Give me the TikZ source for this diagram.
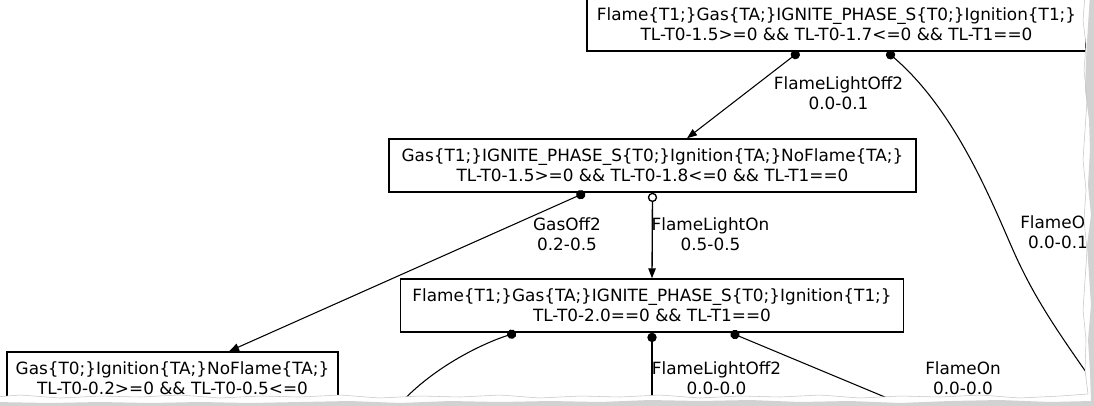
\documentclass[tikz,border=0pt]{standalone}
\usepackage{fontspec}
\setmainfont{DejaVu Sans}
\usetikzlibrary{arrows.meta,calc}
\begin{document}
\begin{tikzpicture}[x=0.75pt,y=-0.75pt,
  box/.style={draw, line width=1.1pt, inner sep=0pt, align=center,
    minimum height=53*0.75pt, font=\fontsize{12.65}{15}\selectfont},
  lbl/.style={inner sep=0pt, align=center, font=\fontsize{12.65}{15}\selectfont},
  edge/.style={line width=0.8pt},
  dt/.style={edge, {Circle[length=7pt]}-{Triangle[length=7.5pt,width=5.6pt]}},
  dtfree/.style={edge, {Circle[length=7pt]}-},
  ot/.style={edge, line width=1pt, {Circle[open,length=7pt,fill=white]}-{Triangle[length=7.5pt,width=5.6pt]}}
]
\useasboundingbox (0,0) rectangle (1094,405);
\fill[white] (0,0) rectangle (1094,405);

% states
\node[box, minimum width=499*0.75pt] (s1) at (836.5,24.5)
  {Flame\{T1;\}Gas\{TA;\}IGNITE\_PHASE\_S\{T0;\}Ignition\{T1;\}\\TL-T0-1.5>=0 \&\& TL-T0-1.7<=0 \&\& TL-T1==0};
\node[box, minimum width=527*0.75pt] (s2) at (652.5,165.5)
  {Gas\{T1;\}IGNITE\_PHASE\_S\{T0;\}Ignition\{TA;\}NoFlame\{TA;\}\\TL-T0-1.5>=0 \&\& TL-T0-1.8<=0 \&\& TL-T1==0};
\node[box, minimum width=503*0.75pt] (s3) at (652,305.5)
  {Flame\{T1;\}Gas\{TA;\}IGNITE\_PHASE\_S\{T0;\}Ignition\{T1;\}\\TL-T0-2.0==0 \&\& TL-T1==0};
\node[box, minimum width=331*0.75pt] (s4) at (172.5,378.5)
  {Gas\{T0;\}Ignition\{TA;\}NoFlame\{TA;\}\\TL-T0-0.2>=0 \&\& TL-T0-0.5<=0};

% ports
\coordinate (p1a) at ($(s1.south)+(-37.5,0)$);
\coordinate (p1b) at ($(s1.south)+(50.5,0)$);
\coordinate (h2) at ($(s2.north)+(34.5,0)$);
\coordinate (p2a) at ($(s2.south)+(-67.5,0)$);
\coordinate (h4) at ($(s4.north)+(56.5,0)$);
\coordinate (p3a) at ($(s3.south)+(-136,0)$);
\coordinate (p3c) at ($(s3.south)+(78.7,0)$);
\coordinate (e2) at (1100,392);
\coordinate (e5) at (393,412);
\coordinate (e6) at (652,420);
\coordinate (e7) at (940,420);

% edges
\draw[dt] (p1a) -- (h2);
\draw[dtfree] (p1b) .. controls (955,110) and (991,200) .. (1013,250)
  .. controls (1035,300) and (1060,335) .. (e2);
\draw[dt] (p2a) -- (h4);
\draw[ot] (s2.south) -- (s3.north);
\draw[dtfree] (p3a) .. controls (478,345) and (425,372) .. (e5);
\draw[dtfree, line width=1pt] (s3.south) -- (e6);
\draw[dtfree] (p3c) -- (e7);

% labels
\node[lbl] (l1) at (838.5,93) {FlameLightOff2\\0.0-0.1};
\node[lbl] (l2) at (1058,232.5) {FlameOn\\0.0-0.1};
\node[lbl] (l3) at (567,234) {GasOff2\\0.2-0.5};
\node[lbl] (l4) at (710.5,234) {FlameLightOn\\0.5-0.5};
\node[lbl] (l5) at (716.5,378.5) {FlameLightOff2\\0.0-0.0};
\node[lbl] (l6) at (963,378.5) {FlameOn\\0.0-0.0};

% torn paper edge
\fill[white] (1085,-5) -- (1083,20) -- (1086,45) -- (1084,70) -- (1087,100) -- (1085,130)
  -- (1083,160) -- (1086,190) -- (1084,220) -- (1087,250) -- (1085,280) -- (1083,310)
  -- (1086,340) -- (1085,370) -- (1088,394) -- (1060,396) -- (1020,398) -- (980,395)
  -- (940,397) -- (900,396) -- (860,398) -- (820,395) -- (780,397) -- (740,396)
  -- (700,398) -- (660,395) -- (620,397) -- (580,396) -- (540,398) -- (500,395)
  -- (460,397) -- (420,396) -- (380,398) -- (340,395) -- (300,397) -- (260,396)
  -- (220,398) -- (180,395) -- (140,397) -- (100,396) -- (60,398) -- (20,395)
  -- (-5,397) -- (-5,410) -- (1100,410) -- (1100,-5) -- cycle;
\fill[gray!35] (1090,-5) -- (1088,25) -- (1086,60) -- (1085,90) -- (1089,120) -- (1090,150)
  -- (1088,185) -- (1091,215) -- (1087,245) -- (1089,275) -- (1091,305) -- (1088,340)
  -- (1090,372) -- (1091,401) -- (1050,402) -- (1000,400) -- (950,401) -- (900,403)
  -- (850,401) -- (800,402) -- (750,400) -- (700,401) -- (650,400) -- (600,402)
  -- (550,401) -- (500,402) -- (450,401) -- (400,403) -- (350,401) -- (300,402)
  -- (250,403) -- (200,402) -- (150,403) -- (100,402) -- (50,403) -- (-5,402)
  -- (-5,410) -- (1100,410) -- (1100,-5) -- cycle;
\draw[gray!45, line width=0.4pt] (1085,-5) -- (1083,20) -- (1086,45) -- (1084,70) -- (1087,100) -- (1085,130)
  -- (1083,160) -- (1086,190) -- (1084,220) -- (1087,250) -- (1085,280) -- (1083,310)
  -- (1086,340) -- (1085,370) -- (1088,394) -- (1060,396) -- (1020,398) -- (980,395)
  -- (940,397) -- (900,396) -- (860,398) -- (820,395) -- (780,397) -- (740,396)
  -- (700,398) -- (660,395) -- (620,397) -- (580,396) -- (540,398) -- (500,395)
  -- (460,397) -- (420,396) -- (380,398) -- (340,395) -- (300,397) -- (260,396)
  -- (220,398) -- (180,395) -- (140,397) -- (100,396) -- (60,398) -- (20,395) -- (-5,397);
\end{tikzpicture}
\end{document}
